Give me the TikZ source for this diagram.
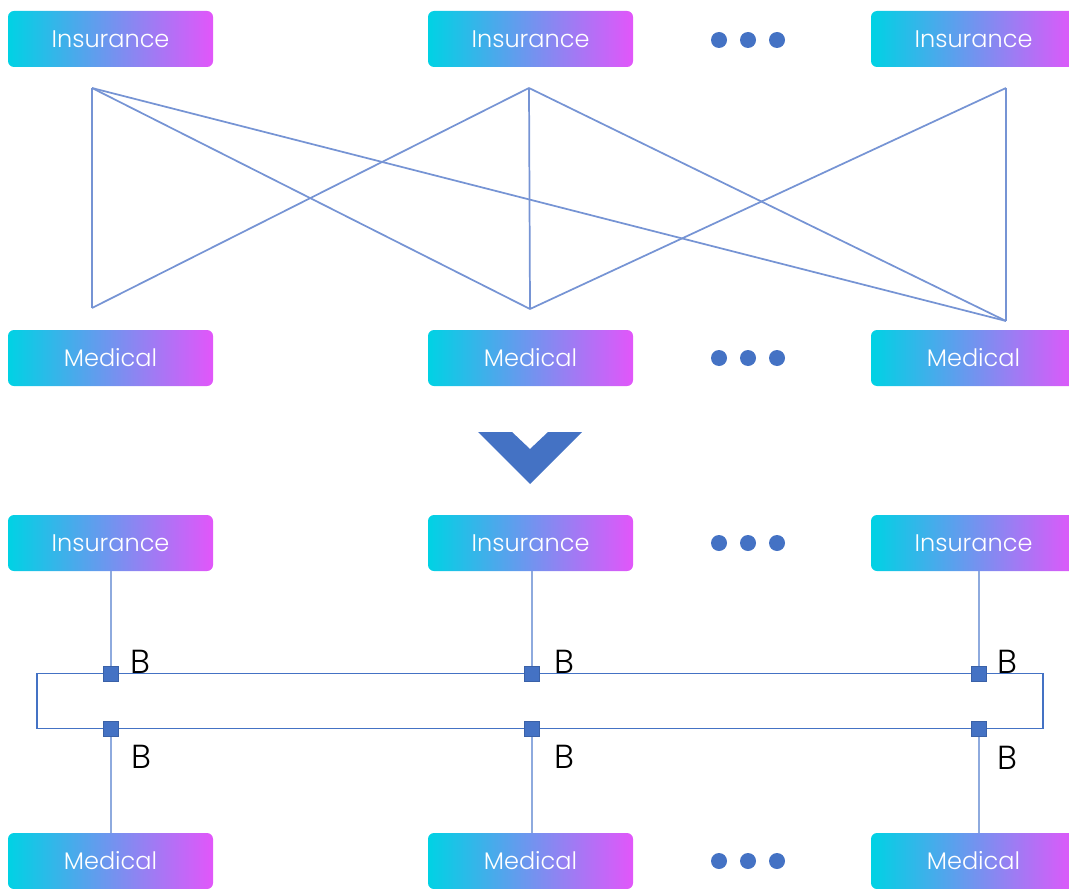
\documentclass[tikz,border=0pt]{standalone}
\usepackage{fontspec}
\IfFontExistsTF{Poppins Light}{\setmainfont{Poppins Light}}{\setmainfont{Poppins}}
\definecolor{cy}{RGB}{0,210,228}
\definecolor{mg}{RGB}{226,86,250}
\definecolor{ln}{RGB}{118,148,212}
\definecolor{dk}{RGB}{68,114,196}
\definecolor{vl}{RGB}{142,170,222}
\begin{document}
\begin{tikzpicture}[x=0.75pt,y=-0.75pt,
  tag/.style={rounded corners=4.5pt, left color=cy, right color=mg, draw=none,
    minimum width=153.75pt, minimum height=42pt, inner sep=0pt,
    text=white, font=\fontsize{18}{20}\selectfont},
  link/.style={draw=ln, line width=1.3pt},
  stem/.style={draw=vl, line width=1.5pt},
  dot/.style={circle, fill=dk, minimum size=12pt, inner sep=0pt},
  port/.style={draw=dk!85!black, fill=dk, minimum size=11.5pt, inner sep=0pt, line width=0.4pt},
  lbl/.style={font=\fontsize{25}{28}\selectfont, inner sep=0pt, anchor=base west},
  bus/.style={draw=dk, line width=1.2pt, minimum width=754.5pt, minimum height=41.25pt, inner sep=0pt}]
\path[use as bounding box] (0,0) rectangle (1069,888);
\clip (0,0) rectangle (1069,888);

% ---------- many-to-many layout ----------
\node[tag] (i1) at (110.5,39) {Insurance};
\node[tag] (i2) at (530.5,39) {Insurance};
\node[tag] (i3) at (973.5,39) {Insurance};
\node[tag] (m1) at (110.5,358) {Medical};
\node[tag] (m2) at (530.5,358) {Medical};
\node[tag] (m3) at (973.5,358) {Medical};
\foreach \x [count=\k] in {719,748,777} {
  \node[dot] (ta\k) at (\x,40) {};
  \node[dot] (tb\k) at (\x,358) {};
}

\coordinate (a1) at (92,88);
\coordinate (a2) at (529,88);
\coordinate (a3) at (1006,88);
\coordinate (b1) at (92,308);
\coordinate (b2) at (530,309);
\coordinate (b3) at (1006,321);
\draw[link] (a1) -- (b1);
\draw[link] (a1) -- (b2);
\draw[link] (a1) -- (b3);
\draw[link] (a2) -- (b1);
\draw[link] (a2) -- (b2);
\draw[link] (a2) -- (b3);
\draw[link] (a3) -- (b2);
\draw[link] (a3) -- (b3);

% ---------- arrow ----------
\fill[dk] (478,432) -- (512,432) -- (530,449) -- (548,432) -- (582,432) -- (530,484) -- cycle;

% ---------- bus layout ----------
\node[tag] (i4) at (110.5,543) {Insurance};
\node[tag] (i5) at (530.5,543) {Insurance};
\node[tag] (i6) at (973.5,543) {Insurance};
\node[tag] (m4) at (110.5,861) {Medical};
\node[tag] (m5) at (530.5,861) {Medical};
\node[tag] (m6) at (973.5,861) {Medical};
\foreach \x [count=\k] in {719,748,777} {
  \node[dot] (tc\k) at (\x,543) {};
  \node[dot] (td\k) at (\x,861) {};
}

\node[bus] (bus) at (540,701) {};

\foreach \x/\n/\t/\c in {111/1/i4/m4, 532/2/i5/m5, 979/3/i6/m6} {
  \coordinate (u\n) at (\x,673.5);
  \coordinate (v\n) at (\x,728.5);
  \draw[stem] (\t.south -| u\n) -- (u\n);
  \draw[stem] (v\n) -- (\c.north -| v\n);
  \node[port] (pu\n) at (u\n) {};
  \node[port] (pv\n) at (v\n) {};
}
\node[lbl] (bu1) at (130,673) {B};
\node[lbl] (bv1) at (131,768) {B};
\node[lbl] (bu2) at (554,673) {B};
\node[lbl] (bv2) at (554,768) {B};
\node[lbl] (bu3) at (997,673) {B};
\node[lbl] (bv3) at (997,769) {B};
\end{tikzpicture}
\end{document}
